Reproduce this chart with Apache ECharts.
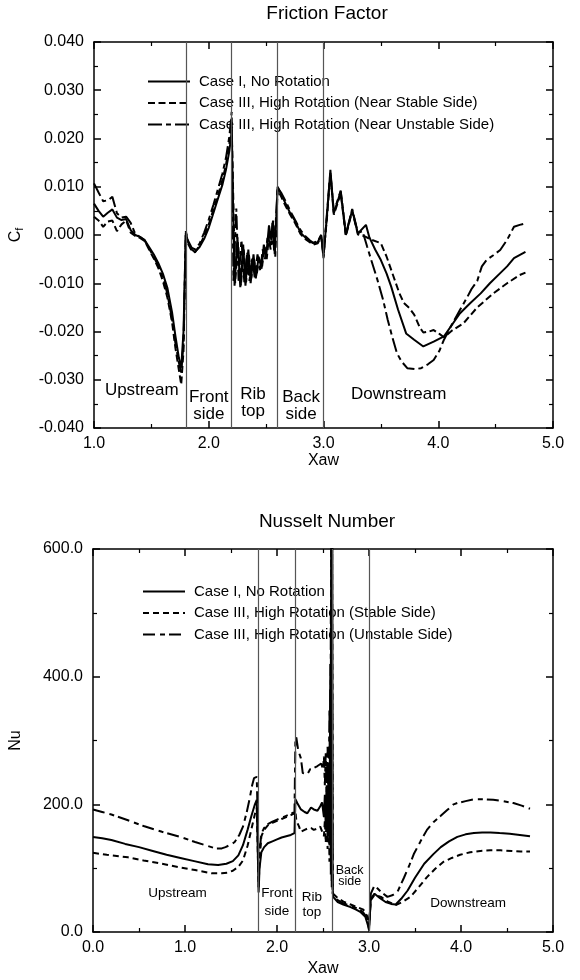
<!DOCTYPE html>
<html>
<head>
<meta charset="utf-8">
<script src="https://cdn.jsdelivr.net/npm/echarts@6/dist/echarts.min.js"></script>
<style>
  html, body { margin: 0; padding: 0; background: #fff; }
  #main { width: 580px; height: 980px; }
</style>
</head>
<body>
<div id="main"></div>
<script>
// ---- Friction factor C_f along the ribbed wall, [Xaw, Cf] ----
const cfCase1 = [
  [1.00,0.0065],[1.04,0.0050],[1.08,0.0038],[1.12,0.0046],[1.16,0.0053],[1.20,0.0036],[1.24,0.0031],[1.28,0.0033],
  [1.32,0.0010],[1.36,0.0000],[1.40,-0.0004],[1.44,-0.0010],[1.48,-0.0025],[1.52,-0.0040],[1.56,-0.0058],[1.60,-0.0080],
  [1.64,-0.0110],[1.68,-0.0160],[1.71,-0.0210],[1.74,-0.0255],[1.76,-0.0275],[1.78,-0.0200],[1.80,0.0005],
  [1.82,-0.0015],[1.85,-0.0030],[1.88,-0.0035],[1.92,-0.0025],[1.96,-0.0008],[2.00,0.0015],[2.04,0.0045],[2.08,0.0075],
  [2.12,0.0105],[2.15,0.0135],[2.18,0.0175],[2.20,0.0215],
  [2.225,-0.0105],[2.25,-0.0005],[2.275,-0.0108],[2.30,-0.0020],[2.32,-0.0105],[2.345,-0.0030],[2.365,-0.0100],
  [2.39,-0.0040],[2.41,-0.0090],[2.435,-0.0045],[2.46,-0.0070],[2.48,-0.0020],[2.50,-0.0045],[2.525,0.0020],
  [2.545,-0.0010],[2.56,0.0030],[2.575,-0.0040],[2.60,0.0100],
  [2.63,0.0085],[2.67,0.0065],[2.71,0.0045],[2.75,0.0030],[2.80,0.0005],[2.84,-0.0005],[2.88,-0.0013],[2.91,-0.0017],
  [2.95,-0.0015],[2.98,0.0000],[3.00,-0.0045],
  [3.03,0.0040],[3.06,0.0135],[3.09,0.0045],[3.15,0.0090],[3.195,0.0000],[3.25,0.0052],[3.30,0.0003],[3.37,0.0021],
  [3.40,-0.0005],[3.45,-0.0030],[3.50,-0.0052],[3.55,-0.0080],[3.59,-0.0107],[3.65,-0.0155],[3.72,-0.0204],[3.79,-0.0217],
  [3.87,-0.0231],[3.96,-0.0221],[4.05,-0.0210],[4.12,-0.0186],[4.19,-0.0162],[4.28,-0.0141],[4.37,-0.0121],[4.45,-0.0100],
  [4.54,-0.0079],[4.60,-0.0065],[4.66,-0.0048],[4.76,-0.0035]
];
const cfStable = [
  [1.00,0.0038],[1.04,0.0030],[1.08,0.0017],[1.12,0.0028],[1.16,0.0030],[1.20,0.0008],[1.24,0.0022],[1.28,0.0030],
  [1.32,0.0005],[1.36,-0.0002],[1.40,-0.0006],[1.44,-0.0012],[1.48,-0.0030],[1.52,-0.0048],[1.56,-0.0068],[1.60,-0.0095],
  [1.64,-0.0130],[1.68,-0.0180],[1.71,-0.0235],[1.74,-0.0280],[1.76,-0.0310],[1.78,-0.0240],[1.80,0.0000],
  [1.82,-0.0018],[1.85,-0.0032],[1.88,-0.0036],[1.92,-0.0022],[1.96,-0.0002],[2.00,0.0022],[2.04,0.0052],[2.08,0.0082],
  [2.12,0.0115],[2.15,0.0145],[2.18,0.0190],[2.20,0.0225],
  [2.23,-0.0100],[2.255,-0.0015],[2.28,-0.0105],[2.305,-0.0030],[2.325,-0.0098],[2.35,-0.0040],[2.37,-0.0090],
  [2.395,-0.0050],[2.415,-0.0085],[2.44,-0.0050],[2.465,-0.0065],[2.485,-0.0025],[2.505,-0.0050],[2.53,0.0010],
  [2.55,-0.0020],[2.565,0.0020],[2.58,-0.0045],[2.60,0.0095],
  [2.63,0.0080],[2.67,0.0060],[2.71,0.0042],[2.75,0.0026],[2.80,0.0002],[2.84,-0.0008],[2.88,-0.0015],[2.91,-0.0020],
  [2.95,-0.0017],[2.98,-0.0003],[3.00,-0.0040],
  [3.03,0.0035],[3.06,0.0128],[3.09,0.0042],[3.15,0.0086],[3.195,-0.0002],[3.25,0.0050],[3.30,0.0001],[3.36,-0.0003],
  [3.42,-0.0010],[3.50,-0.0017],[3.55,-0.0045],[3.61,-0.0086],[3.66,-0.0120],[3.70,-0.0141],[3.75,-0.0152],[3.79,-0.0165],
  [3.84,-0.0192],[3.87,-0.0202],[3.92,-0.0200],[3.96,-0.0197],[4.01,-0.0205],[4.05,-0.0212],[4.12,-0.0198],[4.22,-0.0183],
  [4.34,-0.0150],[4.48,-0.0121],[4.60,-0.0100],[4.71,-0.0083],[4.76,-0.0078]
];
const cfUnstable = [
  [1.00,0.0107],[1.04,0.0088],[1.08,0.0070],[1.12,0.0072],[1.16,0.0079],[1.20,0.0045],[1.24,0.0036],[1.28,0.0038],
  [1.32,0.0025],[1.36,0.0002],[1.40,-0.0004],[1.44,-0.0011],[1.48,-0.0028],[1.52,-0.0045],[1.56,-0.0064],[1.60,-0.0088],
  [1.64,-0.0122],[1.68,-0.0175],[1.71,-0.0225],[1.74,-0.0265],[1.76,-0.0285],[1.78,-0.0225],[1.80,0.0008],
  [1.82,-0.0012],[1.85,-0.0026],[1.88,-0.0030],[1.92,-0.0018],[1.96,0.0005],[2.00,0.0032],[2.04,0.0062],[2.08,0.0095],
  [2.12,0.0128],[2.15,0.0160],[2.18,0.0205],[2.20,0.0255],
  [2.215,-0.0095],[2.24,0.0055],[2.26,-0.0095],[2.285,-0.0010],[2.31,-0.0098],[2.335,-0.0035],[2.355,-0.0095],
  [2.38,-0.0045],[2.40,-0.0088],[2.425,-0.0040],[2.45,-0.0075],[2.47,-0.0030],[2.49,-0.0050],[2.515,0.0000],
  [2.54,-0.0030],[2.555,0.0025],[2.57,-0.0035],[2.60,0.0098],
  [2.63,0.0088],[2.67,0.0070],[2.71,0.0050],[2.75,0.0032],[2.80,0.0010],[2.84,-0.0002],[2.88,-0.0011],[2.91,-0.0016],
  [2.95,-0.0013],[2.98,0.0000],[3.00,-0.0048],
  [3.03,0.0045],[3.06,0.0130],[3.09,0.0048],[3.15,0.0092],[3.195,0.0002],[3.25,0.0054],[3.30,0.0004],[3.34,0.0008],
  [3.38,-0.0024],[3.42,-0.0055],[3.47,-0.0093],[3.52,-0.0135],[3.56,-0.0176],[3.60,-0.0212],[3.64,-0.0245],[3.68,-0.0262],
  [3.73,-0.0276],[3.80,-0.0278],[3.85,-0.0276],[3.91,-0.0268],[3.96,-0.0259],[4.01,-0.0240],[4.05,-0.0217],[4.12,-0.0185],
  [4.19,-0.0155],[4.25,-0.0130],[4.29,-0.0112],[4.34,-0.0095],[4.38,-0.0065],[4.42,-0.0052],[4.48,-0.0042],[4.54,-0.0031],
  [4.60,-0.0010],[4.66,0.0017],[4.71,0.0021],[4.76,0.0024]
];

// ---- Nusselt number along the ribbed wall, [Xaw, Nu] ----
const nuCase1 = [
  [0.00,149],[0.10,147],[0.20,144],[0.35,138],[0.50,133],[0.65,127],[0.80,121],[0.95,116],[1.10,111],[1.25,106],
  [1.36,105],[1.45,107],[1.52,111],[1.58,120],[1.63,136],[1.68,160],[1.72,181],[1.76,200],[1.78,207],[1.80,62],
  [1.81,100],[1.83,125],[1.86,133],[1.90,139],[1.95,142],[2.00,145],[2.05,148],[2.10,150],[2.15,152],[2.19,155],[2.20,208],
  [2.22,202],[2.26,192],[2.30,188],[2.33,186],[2.37,195],[2.40,192],[2.44,190],[2.47,197],[2.49,203],[2.51,180],[2.52,215],
  [2.53,165],[2.54,230],[2.55,150],[2.56,260],[2.57,140],[2.58,420],[2.585,120],[2.59,640],[2.595,80],[2.60,640],[2.605,70],[2.61,55],
  [2.66,47],[2.72,43],[2.80,39],[2.86,35],[2.91,31],[2.96,24],[2.99,10],[3.00,3],
  [3.02,52],[3.06,60],[3.12,53],[3.18,47],[3.24,44],[3.29,43],[3.35,52],[3.42,65],[3.50,85],[3.60,107],[3.70,122],
  [3.78,133],[3.87,142],[3.96,149],[4.05,153],[4.14,155],[4.23,156],[4.32,156],[4.42,155],[4.53,154],[4.64,152],[4.75,150]
];
const nuStable = [
  [0.00,124],[0.15,121],[0.38,117],[0.55,112],[0.75,107],[0.95,101],[1.11,97],[1.29,92],[1.40,92],[1.46,93],[1.52,96],
  [1.58,102],[1.63,112],[1.68,135],[1.72,160],[1.76,185],[1.78,195],[1.80,70],
  [1.81,110],[1.83,150],[1.86,160],[1.90,167],[1.95,171],[2.00,174],[2.05,177],[2.10,180],[2.15,183],[2.19,186],[2.20,190],
  [2.21,175],[2.24,165],[2.26,157],[2.30,160],[2.33,162],[2.37,163],[2.40,160],[2.44,162],[2.47,165],[2.49,168],[2.51,150],
  [2.52,175],[2.53,140],[2.54,185],[2.55,130],[2.56,230],[2.57,110],[2.58,380],[2.585,90],[2.59,640],[2.595,70],[2.60,640],[2.605,65],[2.61,60],
  [2.66,53],[2.73,47],[2.80,43],[2.87,39],[2.94,35],[2.98,25],[3.00,8],
  [3.02,50],[3.06,58],[3.13,55],[3.20,48],[3.29,42],[3.36,47],[3.45,55],[3.54,70],[3.63,86],[3.72,99],[3.81,110],
  [3.90,116],[3.99,121],[4.10,125],[4.21,127],[4.32,128],[4.43,128],[4.55,127],[4.65,126],[4.75,126]
];
const nuUnstable = [
  [0.00,192],[0.10,188],[0.20,184],[0.38,175],[0.55,166],[0.75,157],[0.95,149],[1.11,141],[1.22,136],[1.33,131],[1.40,131],
  [1.44,133],[1.50,137],[1.54,141],[1.59,152],[1.63,165],[1.67,187],[1.70,207],[1.73,230],[1.75,241],[1.78,243],[1.80,115],
  [1.81,125],[1.83,154],[1.86,163],[1.90,169],[1.95,173],[2.00,176],[2.05,179],[2.10,182],[2.15,185],[2.19,188],[2.20,300],
  [2.21,305],[2.23,285],[2.26,272],[2.28,249],[2.30,252],[2.33,247],[2.36,255],[2.40,257],[2.44,260],[2.48,264],[2.50,255],
  [2.51,275],[2.52,230],[2.53,280],[2.54,210],[2.55,290],[2.56,180],[2.57,350],[2.58,150],[2.585,500],[2.59,100],[2.595,640],
  [2.60,640],[2.605,60],[2.61,57],
  [2.66,50],[2.72,45],[2.80,41],[2.87,37],[2.93,32],[2.97,24],[3.00,5],
  [3.02,60],[3.06,73],[3.13,63],[3.20,55],[3.26,58],[3.31,63],[3.38,85],[3.44,105],[3.49,123],[3.56,142],[3.63,160],
  [3.70,172],[3.78,182],[3.85,191],[3.92,200],[3.96,202],[4.05,205],[4.14,208],[4.25,208],[4.35,207],[4.46,205],[4.57,202],
  [4.66,198],[4.75,193]
];

// Rib geometry boundaries (Xaw) and region names
const ribEdges = [1.8, 2.2, 2.6, 3.0];
const regionNames = ['Upstream', 'Front\nside', 'Rib\ntop', 'Back\nside', 'Downstream'];
// anchor points of the region names, in data units of each panel
const cfRegionAnchors = [[1.416,-0.0321],[2.00,-0.0355],[2.386,-0.0348],[2.805,-0.0355],[3.655,-0.0331]];
const nuRegionAnchors = [[0.918,61],[2.00,47],[2.378,43],[2.79,87],[4.077,45]];

const cfNames = ['Case I, No Rotation', 'Case III, High Rotation (Near Stable Side)', 'Case III, High Rotation (Near Unstable Side)'];
const nuNames = ['Case I, No Rotation', 'Case III, High Rotation (Stable Side)', 'Case III, High Rotation (Unstable Side)'];

const FONT = '"Liberation Sans", Arial, Helvetica, sans-serif';
const BLACK = '#000';
const axisLine = { show: true, onZero: false, lineStyle: { color: BLACK, width: 1.5 } };
const tick = { show: true, inside: true, length: 7, lineStyle: { color: BLACK, width: 1.5 } };
const minor = { show: true, splitNumber: 2, length: 4, lineStyle: { color: BLACK, width: 1.2 } };

function xAxisDef(gridIndex, min, position, labelled, nameGap) {
  const a = {
    gridIndex, type: 'value', min, max: 5, interval: 1, position,
    axisLine, axisTick: tick, minorTick: minor,
    splitLine: { show: false }, minorSplitLine: { show: false },
    axisLabel: { show: labelled, formatter: v => v.toFixed(1), fontSize: 16, color: BLACK, fontFamily: FONT, margin: 8 }
  };
  if (labelled) {
    a.name = 'Xaw'; a.nameLocation = 'middle'; a.nameGap = nameGap;
    a.nameTextStyle = { fontSize: 16, color: BLACK, fontFamily: FONT };
  }
  return a;
}
function yAxisDef(gridIndex, min, max, interval, position, digits, name) {
  const a = {
    gridIndex, type: 'value', min, max, interval, position,
    axisLine, axisTick: tick, minorTick: minor,
    splitLine: { show: false }, minorSplitLine: { show: false },
    axisLabel: { show: !!name, formatter: v => v.toFixed(digits), fontSize: 16, color: BLACK, fontFamily: FONT, margin: 10 }
  };
  if (name) {
    a.name = name; a.nameLocation = 'middle'; a.nameRotate = 90; a.nameGap = 69;
    a.nameTextStyle = {
      fontSize: 16, color: BLACK, fontFamily: FONT,
      rich: { c: { fontSize: 16, fontFamily: FONT, color: BLACK }, f: { fontSize: 11, fontFamily: FONT, color: BLACK, padding: [7, 0, 0, 0] } }
    };
  }
  return a;
}

const solid = { color: BLACK, width: 2, type: 'solid' };
const dashedCf = { color: BLACK, width: 2, type: [7, 3.5] };
const dashDotCf = { color: BLACK, width: 2, type: [14, 4, 5, 4] };
const dashedNu = { color: BLACK, width: 2, type: [6, 4] };
const dashDotNu = { color: BLACK, width: 2, type: [12, 5, 5, 4] };

function lineSeries(name, data, gi, style, extra) {
  return Object.assign({
    type: 'line', name, data, xAxisIndex: gi * 2, yAxisIndex: gi * 2,
    symbol: 'none', showSymbol: false, lineStyle: style, itemStyle: { color: BLACK }, clip: true,
    animation: false, silent: true, z: 3
  }, extra || {});
}
function ribMarks(anchors, fontSize, lineHeights) {
  return {
    markLine: {
      silent: true, symbol: ['none', 'none'], animation: false,
      label: { show: false },
      lineStyle: { color: '#555', width: 1.2, type: 'solid' },
      data: ribEdges.map(x => ({ xAxis: x }))
    },
    markPoint: {
      silent: true, animation: false, symbol: 'rect', symbolSize: 1,
      itemStyle: { color: 'rgba(0,0,0,0)' },
      data: regionNames.map((n, i) => ({
        name: n, coord: anchors[i],
        label: { show: true, position: 'inside', formatter: '{b}', color: BLACK, fontFamily: FONT,
                 fontSize: fontSize[i], lineHeight: lineHeights[i] }
      }))
    }
  };
}
function legendDef(names, left, top) {
  return {
    orient: 'vertical', left, top, itemWidth: 42, itemHeight: 14, itemGap: 6.5,
    selectedMode: false, data: names,
    itemStyle: { opacity: 0 },
    textStyle: { fontSize: 15, color: BLACK, fontFamily: FONT, padding: [0, 0, 0, 4] }
  };
}

const chart = echarts.init(document.getElementById('main'), null, { renderer: 'canvas', width: 580, height: 980 });
chart.setOption({
  animation: false,
  backgroundColor: '#fff',
  textStyle: { fontFamily: FONT },
  title: [
    { text: 'Friction Factor', left: 322, top: -1, textAlign: 'center',
      textStyle: { fontSize: 19, fontWeight: 'normal', color: BLACK, fontFamily: FONT } },
    { text: 'Nusselt Number', left: 322, top: 507, textAlign: 'center',
      textStyle: { fontSize: 19, fontWeight: 'normal', color: BLACK, fontFamily: FONT } }
  ],
  grid: [
    { left: 92, top: 42, width: 461, height: 386 },
    { left: 91, top: 549, width: 462, height: 383 }
  ],
  xAxis: [
    xAxisDef(0, 1, 'bottom', true, 23), xAxisDef(0, 1, 'top', false),
    xAxisDef(1, 0, 'bottom', true, 29), xAxisDef(1, 0, 'top', false)
  ],
  yAxis: [
    yAxisDef(0, -0.04, 0.04, 0.01, 'left', 3, '{c|C}{f|f}'), yAxisDef(0, -0.04, 0.04, 0.01, 'right', 3, null),
    yAxisDef(1, 0, 600, 200, 'left', 1, 'Nu'), yAxisDef(1, 0, 600, 200, 'right', 1, null)
  ],
  legend: [
    legendDef(cfNames, 142, 69),
    legendDef(nuNames, 137, 579)
  ],
  series: [
    lineSeries(cfNames[0], cfCase1, 0, solid, ribMarks(cfRegionAnchors, [17,17,17,17,17], [17,17,17,17,17])),
    lineSeries(cfNames[1], cfStable, 0, dashedCf),
    lineSeries(cfNames[2], cfUnstable, 0, dashDotCf),
    lineSeries(nuNames[0], nuCase1, 1, solid, ribMarks(nuRegionAnchors, [13.5,13.5,13.5,12.5,13.5], [14,18,15,11,14])),
    lineSeries(nuNames[1], nuStable, 1, dashedNu),
    lineSeries(nuNames[2], nuUnstable, 1, dashDotNu)
  ]
});
</script>
</body>
</html>
